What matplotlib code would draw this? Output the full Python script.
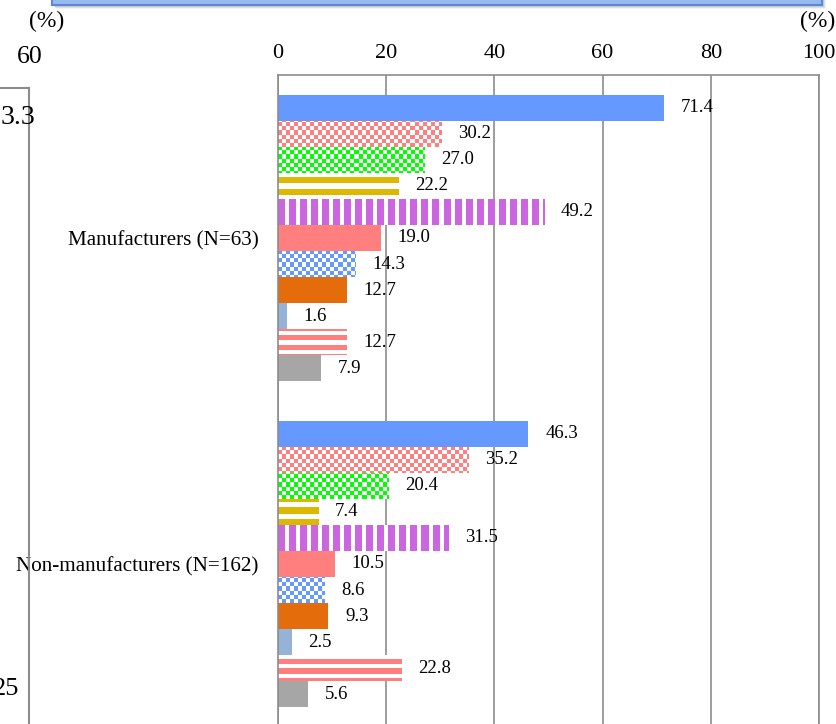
import numpy as np
import matplotlib
matplotlib.use("Agg")
import matplotlib.pyplot as plt
from matplotlib.patches import Rectangle
from matplotlib.lines import Line2D

plt.rcParams['font.family'] = ['Liberation Serif', 'DejaVu Serif']

# ---- data ----
categories = ["Manufacturers (N=63)", "Non-manufacturers (N=162)"]
manufacturers = [71.4, 30.2, 27.0, 22.2, 49.2, 19.0, 14.3, 12.7, 1.6, 12.7, 7.9]
non_manufacturers = [46.3, 35.2, 20.4, 7.4, 31.5, 10.5, 8.6, 9.3, 2.5, 22.8, 5.6]
x_ticks = [0, 20, 40, 60, 80, 100]
unit_label = "(%)"
side_panel_labels = ["60", "3.3", "25"]

# ---- series styles: (colour, fill pattern) ----
series_colors = ['#6699FF', '#FF7F7F', '#00FF00', '#DDB800', '#CC66E0', '#FF7F7F',
                 '#6699FF', '#E46C0A', '#95B3D7', '#FF7F7F', '#A6A6A6']
series_fills = ['solid', 'checker', 'checker', 'hstripe_wide', 'vstripe', 'solid',
                'checker', 'solid', 'solid', 'hstripe', 'solid']

W, H, DPI = 836, 724, 100
fig = plt.figure(figsize=(W / DPI, H / DPI), dpi=DPI)

def fx(px):
    return px / W

def fy(py):
    return 1 - py / H

ax_left, ax_right, ax_top, ax_bottom = 278, 819, 75, 727
ax = fig.add_axes([fx(ax_left), fy(ax_bottom), fx(ax_right - ax_left), (ax_bottom - ax_top) / H])

n_series = len(manufacturers)
bar_h = 0.0798
groups = [manufacturers, non_manufacturers]

ax.set_xlim(0, 100)
ax.set_ylim(1.5, -0.5)

# pixel-aligned textures spanning the whole plotting area
px_w = int(round((ax_right - ax_left)))
px_h = int(round((ax_bottom - ax_top)))
yy, xx = np.mgrid[0:px_h, 0:px_w]

def texture(kind, color):
    rgb = np.array(matplotlib.colors.to_rgb(color))
    if kind == 'checker':
        mask = ((xx // 4) + (yy // 4)) % 2 == 0
    elif kind == 'hstripe_wide':
        mask = ((yy + 7) % 11) < 6
    elif kind == 'hstripe':
        mask = (yy % 9) < 5
    elif kind == 'vstripe':
        mask = (xx % 11) < 7
    else:
        mask = np.ones_like(xx, dtype=bool)
    img = np.ones((px_h, px_w, 3))
    img[mask] = rgb
    return img

tex_cache = {}
for gi, vals in enumerate(groups):
    for si, v in enumerate(vals):
        yc = gi + (si - (n_series - 1) / 2) * bar_h
        kind = series_fills[si]
        col = series_colors[si]
        fc = col if kind == 'solid' else 'white'
        bars = ax.barh(yc, v, height=bar_h, color=fc, edgecolor='none', zorder=2)
        if kind != 'solid':
            key = (kind, col)
            if key not in tex_cache:
                tex_cache[key] = texture(kind, col)
            im = ax.imshow(tex_cache[key], extent=(0, 100, 1.5, -0.5), origin='upper',
                           interpolation='nearest', aspect='auto', zorder=2.5)
            im.set_clip_path(bars.patches[0])
        ax.annotate(f"{v:.1f}", xy=(v, yc), xytext=(12, 0), textcoords='offset points',
                    ha='left', va='center', fontsize=13.5, color='black', zorder=4)

ax.set_xlim(0, 100)
ax.set_ylim(1.5, -0.5)

# axes styling
ax.set_axisbelow(True)
ax.xaxis.tick_top()
ax.set_xticks(x_ticks)
ax.set_xticklabels([str(t) for t in x_ticks])
ax.tick_params(axis='x', length=0, pad=9, labelsize=16)
ax.set_yticks(range(len(categories)))
ax.set_yticklabels(categories)
ax.tick_params(axis='y', length=0, pad=14, labelsize=15.2)
ax.grid(axis='x', color='#8C8C8C', linewidth=1.2)
ax.grid(axis='y', visible=False)
for s in ax.spines.values():
    s.set_color('#8C8C8C')
    s.set_linewidth(1.2)

fig.text(fx(818), fy(21), unit_label, ha='center', va='center', fontsize=17)

# neighbouring panel on the left
fig.text(fx(47), fy(21), unit_label, ha='center', va='center', fontsize=17)
fig.text(fx(30), fy(57), side_panel_labels[0], ha='center', va='center', fontsize=18.5)
fig.text(fx(35), fy(117), side_panel_labels[1], ha='right', va='center', fontsize=20)
fig.text(fx(19), fy(689), side_panel_labels[2], ha='right', va='center', fontsize=19)
fig.add_artist(Line2D([fx(29), fx(29)], [fy(88), fy(730)], color='#8C8C8C', lw=1.5,
                      transform=fig.transFigure))
fig.add_artist(Line2D([fx(-5), fx(29)], [fy(88), fy(88)], color='#8C8C8C', lw=1.5,
                      transform=fig.transFigure))

# banner box at the top with a soft shadow
for i, a in enumerate([0.10, 0.16, 0.22]):
    off = 4 - i
    fig.add_artist(Rectangle((fx(52 + off), fy(5 + off)), fx(770), 60 / H,
                             transform=fig.transFigure, facecolor='#808080',
                             edgecolor='none', alpha=a))
fig.add_artist(Rectangle((fx(52), fy(5)), fx(770), 60 / H, transform=fig.transFigure,
                         facecolor='#96B9EE', edgecolor='#5A88D6', lw=1.5))

fig.savefig("out.png", dpi=DPI)
